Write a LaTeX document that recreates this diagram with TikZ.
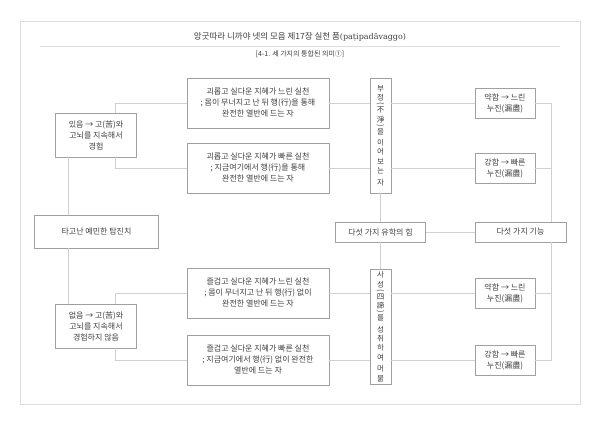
\documentclass[tikz,border=0pt]{standalone}
\usepackage{fontspec}
\usepackage{graphicx}
\newfontfamily\kr{Noto Sans CJK KR}
\newfontfamily\lat{DejaVu Serif}
\definecolor{inkgray}{HTML}{3F3F3F}
\definecolor{boxgray}{HTML}{A0A0A0}
\definecolor{linkgray}{HTML}{D0D0D0}
\definecolor{framegray}{HTML}{DDDDDD}
\newcommand{\vopen}{\\[-7.2pt]\rotatebox{-90}{(}\\[0.5pt]}
\newcommand{\vclose}{\\[-7.2pt]\rotatebox{-90}{)}\\[0.5pt]}

\begin{document}
\begin{tikzpicture}[x=1pt,y=-1pt,
    box/.style={draw=boxgray,line width=0.6pt,fill=white,inner sep=0pt,align=center,
                text=inkgray,font=\kr\fontsize{8}{11}\selectfont},
    vbox/.style={box,minimum width=21,minimum height=115,font=\kr\fontsize{7.5}{9.4}\selectfont},
    link/.style={draw=linkgray,line width=0.6pt}]
    \fill[white] (0,0) rectangle (600,425);
    \useasboundingbox (0,0) rectangle (600,425);
    \draw[framegray,line width=0.6pt] (20,21) rectangle (580,404);

    % heading
    \node[text=inkgray,font=\kr\fontsize{8.5}{10}\selectfont] (ttl) at (300,37)
        {앙굿따라 니까야 넷의 모음 제17장 실천 품{\lat\fontsize{8}{10}\selectfont(paṭipadāvaggo)}};
    \draw[framegray,line width=0.6pt] (40,46) -- (560,46);
    \node[text=inkgray,font=\kr\fontsize{7}{9}\selectfont] (sub) at (300,54) {[4-1. 세 가지의 통합된 의미①]};

    % left column
    \node[box,minimum width=124,minimum height=33] (root) at (96.5,231.5) {타고난 예민한 탐진치};
    \node[box,minimum width=81,minimum height=44] (yes) at (96,135) {있음 → 고(苦)와\\고뇌를 지속해서\\경험};
    \node[box,minimum width=81,minimum height=44] (no) at (96,326) {없음 → 고(苦)와\\고뇌를 지속해서\\경험하지 않음};

    % practice boxes
    \node[box,minimum width=142,minimum height=50] (b1) at (258,103)
        {괴롭고 실다운 지혜가 느린 실천\\; 몸이 무너지고 난 뒤 행(行)을 통해\\완전한 열반에 드는 자};
    \node[box,minimum width=142,minimum height=50] (b2) at (258,168)
        {괴롭고 실다운 지혜가 빠른 실천\\; 지금여기에서 행(行)을 통해\\완전한 열반에 드는 자};
    \node[box,minimum width=142,minimum height=50] (b3) at (258,293)
        {즐겁고 실다운 지혜가 느린 실천\\; 몸이 무너지고 난 뒤 행(行) 없이\\완전한 열반에 드는 자};
    \node[box,minimum width=142,minimum height=50] (b4) at (258,360)
        {즐겁고 실다운 지혜가 빠른 실천\\; 지금여기에서 행(行) 없이 완전한\\열반에 드는 자};

    % vertical boxes
    \node[vbox] (v1) at (380.5,135.5)
        {부\\정\vopen 不\\淨\vclose 을\\[2pt]이\\어\\보\\는\\[2pt]자};
    \node[vbox] (v2) at (380.5,326.5)
        {사\\성\vopen 四\\諦\vclose 를\\[2pt]성\\취\\하\\여\\[2pt]머\\묾};
    \node[box,minimum width=90,minimum height=20] (pow) at (380.5,232) {다섯 가지 유학의 힘};

    % right column
    \node[box,minimum width=91,minimum height=20] (fac) at (520.5,232) {다섯 가지 기능};
    \node[box,minimum width=60,minimum height=30] (r1) at (505,103) {약함 → 느린\\누진(漏盡)};
    \node[box,minimum width=60,minimum height=30] (r2) at (505,168) {강함 → 빠른\\누진(漏盡)};
    \node[box,minimum width=60,minimum height=30] (r3) at (505,293) {약함 → 느린\\누진(漏盡)};
    \node[box,minimum width=60,minimum height=30] (r4) at (505,360) {강함 → 빠른\\누진(漏盡)};
    \coordinate (ttop) at (551.5,103);
    \coordinate (tbot) at (551.5,360);

    % connectors
    \draw[link] ([xshift=-28]yes.south) -- ([xshift=-28]yes.south |- root.north);
    \draw[link] ([xshift=-28]no.north) -- ([xshift=-28]no.north |- root.south);
    \draw[link] ([xshift=19]yes.north) |- (b1.west);
    \draw[link] ([xshift=19]yes.south) |- (b2.west);
    \draw[link] ([xshift=19]no.north) |- (b3.west);
    \draw[link] ([xshift=19]no.south) |- (b4.west);
    \draw[link] (b1.east) -- (b1.east -| v1.west);
    \draw[link] (b2.east) -- (b2.east -| v1.west);
    \draw[link] (b3.east) -- (b3.east -| v2.west);
    \draw[link] (b4.east) -- (b4.east -| v2.west);
    \draw[link] (r1.west -| v1.east) -- (r1.west);
    \draw[link] (r2.west -| v1.east) -- (r2.west);
    \draw[link] (r3.west -| v2.east) -- (r3.west);
    \draw[link] (r4.west -| v2.east) -- (r4.west);
    \draw[link] (v1.south) -- (pow.north);
    \draw[link] (pow.south) -- (v2.north);
    \draw[link] (pow.east) -- (fac.west);
    \draw[link] (r1.east) -- (ttop) -- (ttop |- fac.north);
    \draw[link] (fac.south -| tbot) -- (tbot) -- (r4.east);
    \draw[link] (r2.east) -- (r2.east -| ttop);
    \draw[link] (r3.east) -- (r3.east -| ttop);
\end{tikzpicture}
\end{document}
